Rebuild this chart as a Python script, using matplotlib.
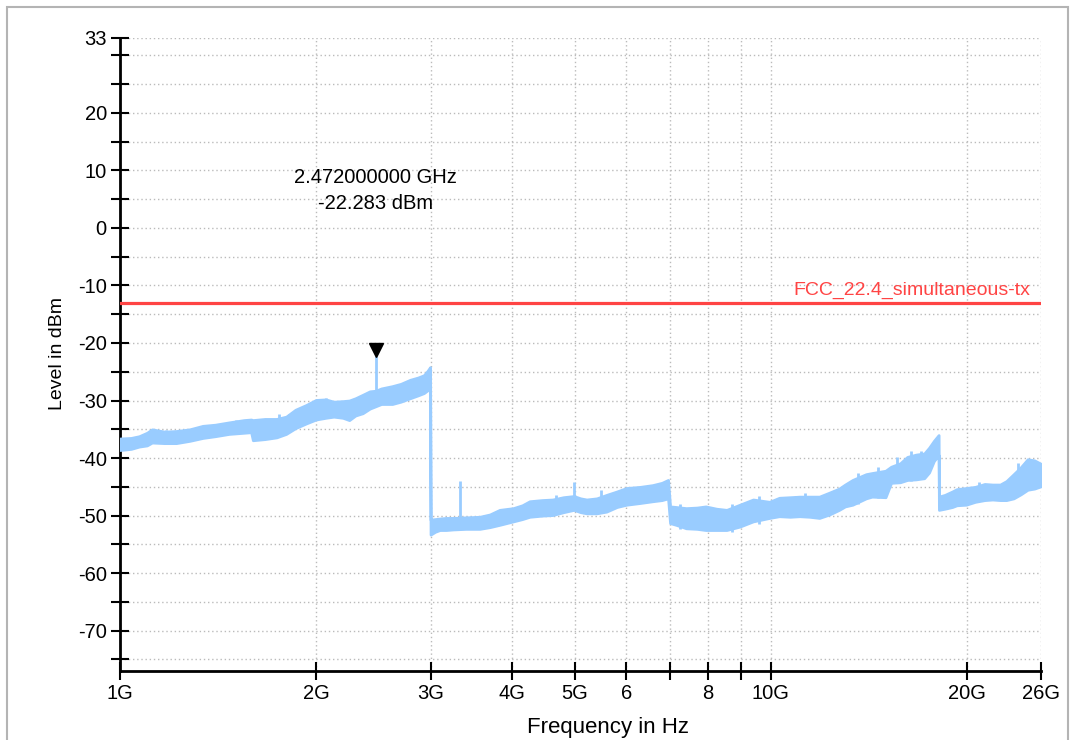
import numpy as np
import matplotlib.pyplot as plt
from matplotlib.patches import Rectangle
from matplotlib.transforms import offset_copy

# Частоты в ГГц, уровни в дБм (нижняя и верхняя граница шумовой полосы)
f_a = [1.00, 1.04, 1.07, 1.10, 1.12, 1.17, 1.22, 1.28, 1.34, 1.40, 1.47, 1.55, 1.59, 1.60,
       1.67, 1.74, 1.80, 1.86, 1.93, 2.00, 2.07, 2.13, 2.20, 2.25, 2.30, 2.36, 2.42, 2.47,
       2.52, 2.62, 2.70, 2.79, 2.87, 2.93, 2.97, 2.995]
lo_a = [-38.6, -38.4, -38.0, -37.8, -37.3, -37.4, -37.4, -37.0, -36.5, -36.2, -35.8, -35.6, -35.5, -36.9,
        -36.7, -36.4, -35.8, -34.8, -34.0, -33.3, -33.0, -32.8, -33.0, -33.4, -32.6, -32.2, -31.4, -31.0,
        -30.6, -30.6, -30.2, -29.6, -29.1, -28.7, -28.2, -28.0]
hi_a = [-36.6, -36.5, -36.2, -35.6, -35.0, -35.4, -35.3, -35.0, -34.4, -34.2, -33.8, -33.4, -33.3, -33.4,
        -33.2, -33.2, -32.8, -31.6, -30.8, -29.9, -29.8, -30.2, -30.1, -30.0, -29.6, -29.0, -28.4, -28.3,
        -27.9, -27.5, -27.1, -26.4, -26.0, -25.6, -24.8, -24.2]

f_b = [3.00, 3.05, 3.10, 3.17, 3.25, 3.40, 3.57, 3.70, 3.83, 4.02, 4.15, 4.26, 4.45, 4.62, 4.80, 4.98,
       5.10, 5.21, 5.40, 5.59, 5.80, 6.00, 6.30, 6.58, 6.80, 6.95]
lo_b = [-53.3, -52.8, -52.5, -52.5, -52.4, -52.3, -52.3, -52.0, -51.6, -51.0, -50.6, -50.2, -50.0, -49.9,
        -49.4, -49.0, -49.4, -49.6, -49.6, -49.3, -48.5, -48.1, -47.8, -47.5, -47.3, -47.0]
hi_b = [-50.7, -50.6, -50.5, -50.4, -50.4, -50.3, -50.2, -49.8, -49.0, -48.7, -48.2, -47.5, -47.3, -47.2,
        -46.8, -46.6, -47.0, -47.2, -47.0, -46.4, -45.8, -45.2, -45.0, -44.7, -44.3, -43.8]

f_c = [7.00, 7.15, 7.41, 7.70, 7.94, 8.25, 8.55, 8.96, 9.39, 9.95, 10.3, 10.7, 11.07, 11.47, 11.87,
       12.3, 12.73, 13.0, 13.35, 14.0, 14.3, 15.0, 15.3, 15.8, 16.2, 16.7, 17.2, 17.5, 17.8, 18.1]
lo_c = [-51.3, -51.6, -52.2, -52.3, -52.5, -52.5, -52.5, -51.9, -51.0, -50.4, -50.1, -50.2, -50.1, -50.2,
        -50.4, -49.8, -49.0, -48.4, -48.1, -47.0, -46.7, -46.8, -44.3, -44.2, -43.8, -43.7, -43.5, -42.5,
        -40.5, -39.5]
hi_c = [-48.4, -48.5, -48.7, -48.6, -48.4, -48.8, -49.0, -48.1, -47.2, -47.6, -46.9, -46.8, -46.7, -46.7,
        -46.7, -46.0, -45.3, -44.6, -43.8, -42.8, -42.6, -42.2, -41.5, -40.9, -39.8, -39.4, -39.2, -38.2,
        -37.0, -36.0]

f_d = [18.12, 18.5, 19.0, 19.3, 19.95, 20.6, 21.3, 21.9, 22.5, 23.0, 23.6, 24.2, 24.8, 25.4, 26.0]
lo_d = [-49.0, -48.8, -48.5, -48.2, -48.1, -47.6, -47.3, -47.2, -47.3, -47.3, -47.0, -46.3, -45.5, -45.3, -44.9]
hi_d = [-46.7, -46.4, -45.8, -45.4, -45.2, -45.0, -44.5, -44.6, -44.6, -44.0, -42.8, -41.6, -40.2, -40.4, -41.0]

# Отдельные выбросы: частота, вершина, основание
spike_f = [1.121, 1.176, 1.507, 1.757, 1.82, 2.07, 2.472, 3.33, 4.67, 4.98, 5.49,
           7.25, 8.7, 9.6, 11.3, 13.6, 14.6, 15.6, 16.4, 17.0, 20.9, 24.0]
spike_top = [-34.9, -35.1, -33.4, -32.3, -32.3, -29.6, -22.283, -43.9, -46.4, -44.1, -45.6,
             -48.0, -47.9, -46.6, -46.0, -42.6, -41.6, -39.8, -38.8, -38.7, -44.2, -40.9]
spike_base = [-36.0, -36.0, -34.5, -34.0, -33.5, -31.0, -30.0, -51.0, -48.5, -48.0, -48.0,
              -52.3, -52.8, -51.5, -50.3, -48.0, -47.0, -44.0, -44.0, -43.6, -47.4, -46.6]

limit_level = -13.0
limit_name = 'FCC_22.4_simultaneous-tx'
marker_f = 2.472
marker_level = -22.283

x_ticks = [1, 2, 3, 4, 5, 6, 7, 8, 9, 10, 20, 26]
x_labels = ['1G', '2G', '3G', '4G', '5G', '6', '', '8', '', '10G', '20G', '26G']
y_ticks = [-75, -70, -65, -60, -55, -50, -45, -40, -35, -30, -25, -20, -15, -10, -5, 0, 5, 10, 15, 20, 25, 30, 33]
y_labels = [str(v) if (v % 10 == 0 and v <= 20) or v == 33 else '' for v in y_ticks]

trace_color = '#99ccff'

plt.rcParams['font.family'] = ['Liberation Sans', 'DejaVu Sans']

fig = plt.figure(figsize=(10.76, 7.40), dpi=100)
ax = fig.add_axes([120 / 1076, 1 - 671 / 740, 921 / 1076, 633 / 740])

# Рамка окна
fig.patches.append(Rectangle((7 / 1076, -0.1), 1061 / 1076, 1.1 - 7 / 740,
                             transform=fig.transFigure, fill=False,
                             edgecolor='#b4b4b4', linewidth=1.5))

f_all = f_a + f_b + f_c + f_d
lo_all = lo_a + lo_b + lo_c + lo_d
hi_all = hi_a + hi_b + hi_c + hi_d
ax.fill_between(f_all, lo_all, hi_all, color=trace_color, linewidth=2,
                edgecolor=trace_color, zorder=3)
ax.vlines(spike_f, spike_base, spike_top, color=trace_color, linewidth=2, zorder=3)

ax.axhline(limit_level, color='#ff4444', linewidth=2.3, zorder=4)
ax.text(25.0, limit_level + 1.3, limit_name, color='#ff4444', fontsize=14,
        ha='right', va='baseline', zorder=5)

mark_tr = offset_copy(ax.transData, fig=fig, x=0, y=6, units='dots')
ax.plot([marker_f], [marker_level], marker='v', color='black', markersize=10,
        transform=mark_tr, zorder=6, clip_on=False)
ax.text(marker_f, 8.7, f'{marker_f:.9f} GHz', ha='center', va='center', fontsize=14.5)
ax.text(marker_f, 4.2, f'{marker_level:.3f} dBm', ha='center', va='center', fontsize=14.5)

ax.set_xscale('log')
ax.set_xlim(1, 26)
ax.set_ylim(-77, 33)
ax.xaxis.set_minor_locator(plt.NullLocator())
ax.set_xticks(x_ticks)
ax.set_xticklabels(x_labels)
ax.set_yticks(y_ticks)
ax.set_yticklabels(y_labels)
ax.tick_params(direction='inout', length=13, width=1.5, labelsize=14.5, pad=3)
ax.grid(True, color='#bbbbbb', linestyle=(0, (1, 2)), linewidth=1)

for side in ['top', 'right']:
    ax.spines[side].set_visible(False)
for side in ['left', 'bottom']:
    ax.spines[side].set_linewidth(2)

fig.text(57 / 1076, 1 - 354 / 740, 'Level in dBm', rotation=90, ha='center', va='center', fontsize=14)
fig.text(608 / 1076, 2 / 740, 'Frequency in Hz', ha='center', va='bottom', fontsize=16)

fig.savefig('out.png', dpi=100)
